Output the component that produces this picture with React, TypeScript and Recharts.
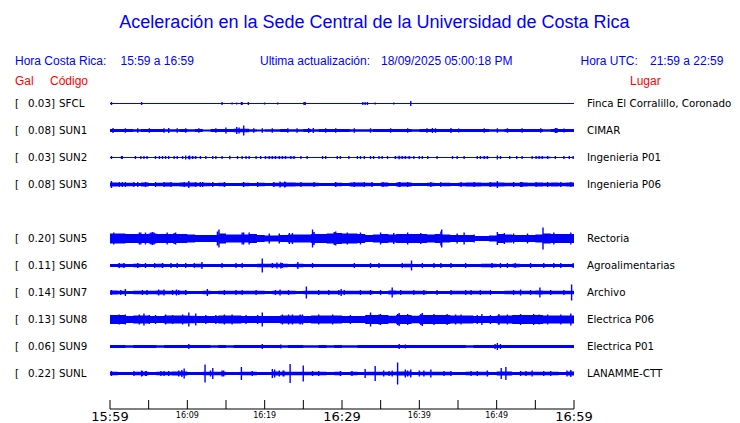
import { ComposedChart, Area, XAxis, YAxis } from 'recharts'

// station order top to bottom; SUN4 keeps an empty slot
const slotOrder = ['SFCL', 'SUN1', 'SUN2', 'SUN3', 'SUN4', 'SUN5', 'SUN6', 'SUN7', 'SUN8', 'SUN9', 'SUNL']
const codes = ['SFCL', 'SUN1', 'SUN2', 'SUN3', 'SUN5', 'SUN6', 'SUN7', 'SUN8', 'SUN9', 'SUNL']
const peakGal = [0.03, 0.08, 0.03, 0.08, 0.2, 0.11, 0.14, 0.13, 0.06, 0.22]
const places = [
  'Finca El Corralillo, Coronado',
  'CIMAR',
  'Ingenieria P01',
  'Ingenieria P06',
  'Rectoria',
  'Agroalimentarias',
  'Archivo',
  'Electrica P06',
  'Electrica P01',
  'LANAMME-CTT',
]

// minutes after 15:59
const tickMinutes = [0, 5, 10, 15, 20, 25, 30, 35, 40, 45, 50, 55, 60]
const labelMinutes = [0, 10, 20, 30, 40, 50, 60]
const labelText = ['15:59', '16:09', '16:19', '16:29', '16:39', '16:49', '16:59']
const majorMinutes = [0, 30, 60]

// envelope half-height of each trace, one value per minute
const bandSFCL = [
  0.5, 0.5, 0.5, 0.5, 0.5, 0.5, 0.5, 0.5, 0.5, 0.5,
  0.5, 0.5, 0.5, 0.5, 0.5, 0.5, 0.5, 0.5, 0.5, 0.5,
  0.5, 0.5, 0.5, 0.5, 0.5, 0.5, 0.5, 0.5, 0.5, 0.5,
  0.5, 0.5, 0.5, 0.5, 0.5, 0.5, 0.5, 0.5, 0.5, 0.5,
  0.5, 0.5, 0.5, 0.5, 0.5, 0.5, 0.5, 0.5, 0.5, 0.5,
  0.5, 0.5, 0.5, 0.5, 0.5, 0.5, 0.5, 0.5, 0.5, 0.5,
]
const bandSUN1 = [
  1.5, 1.5, 1.5, 1.2, 1.5, 1.5, 1.5, 1.2, 1.2, 1.5,
  1.2, 1.5, 1.0, 1.5, 1.5, 1.5, 1.8, 1.8, 1.2, 1.0,
  1.2, 1.2, 1.5, 1.2, 1.2, 1.5, 1.2, 1.5, 1.5, 1.5,
  1.5, 1.2, 1.2, 1.2, 1.5, 1.5, 1.5, 1.5, 1.5, 1.2,
  1.5, 1.5, 1.5, 1.5, 1.5, 1.5, 1.5, 1.5, 1.5, 1.2,
  1.2, 1.5, 1.5, 1.5, 1.5, 1.5, 1.2, 1.5, 1.5, 1.5,
]
const bandSUN2 = [
  0.5, 0.5, 0.5, 0.5, 0.6, 0.5, 0.6, 0.5, 0.5, 0.6,
  0.8, 0.6, 0.5, 0.5, 0.5, 0.5, 0.5, 0.5, 0.5, 0.5,
  0.8, 0.8, 0.8, 0.8, 0.5, 0.5, 0.5, 0.5, 0.5, 0.5,
  0.5, 0.5, 0.6, 0.6, 0.5, 0.5, 0.5, 0.8, 0.8, 0.6,
  0.5, 0.5, 0.5, 0.5, 0.5, 0.5, 0.5, 0.5, 0.8, 0.5,
  0.6, 0.5, 0.5, 0.5, 0.5, 0.8, 0.8, 0.5, 0.5, 0.5,
]
const bandSUN3 = [
  2.0, 1.8, 1.8, 1.6, 2.0, 1.6, 1.8, 2.0, 1.8, 2.0,
  2.0, 1.8, 1.8, 1.6, 1.8, 1.6, 1.6, 1.8, 1.6, 1.8,
  1.6, 1.8, 2.0, 2.0, 1.8, 1.8, 1.8, 1.6, 1.6, 1.8,
  1.6, 2.0, 2.0, 1.8, 1.6, 2.0, 1.6, 2.0, 2.0, 1.6,
  1.6, 1.8, 1.6, 1.8, 1.6, 1.8, 2.0, 2.0, 1.8, 2.0,
  2.0, 1.8, 1.8, 2.0, 1.8, 2.0, 1.8, 2.0, 1.8, 2.0,
]
const bandSUN5 = [
  5.0, 5.0, 4.5, 4.5, 4.5, 5.0, 4.5, 4.5, 4.5, 4.5,
  4.0, 3.5, 3.5, 3.5, 5.0, 4.0, 4.0, 4.0, 4.5, 3.5,
  3.0, 3.0, 3.5, 4.0, 4.0, 4.0, 4.5, 4.5, 5.0, 5.5,
  5.0, 5.0, 4.5, 3.5, 4.0, 4.5, 4.0, 4.5, 4.5, 4.5,
  4.5, 4.0, 4.5, 4.0, 3.5, 3.5, 3.5, 2.5, 2.5, 3.0,
  4.5, 4.0, 3.5, 3.5, 3.5, 4.0, 5.0, 4.5, 4.5, 4.5,
]
const bandSUN6 = [
  1.5, 1.8, 1.5, 1.8, 1.6, 1.6, 1.8, 1.6, 1.6, 1.6,
  1.6, 1.8, 1.5, 1.5, 1.6, 1.5, 1.6, 1.6, 1.5, 1.8,
  1.8, 1.8, 1.8, 1.5, 1.8, 1.5, 1.6, 1.5, 1.5, 1.5,
  1.5, 1.6, 1.5, 1.6, 1.6, 1.5, 1.5, 1.6, 1.8, 1.5,
  1.6, 1.6, 1.6, 1.6, 1.5, 1.6, 1.6, 1.5, 1.8, 1.8,
  1.6, 1.5, 1.8, 1.5, 1.6, 1.6, 1.6, 1.6, 1.6, 1.6,
]
const bandSUN7 = [
  2.0, 1.8, 1.6, 1.8, 1.8, 1.8, 2.0, 1.8, 1.8, 1.8,
  1.6, 1.6, 1.8, 1.6, 1.7, 1.7, 1.8, 1.8, 1.7, 1.8,
  1.6, 1.8, 1.8, 1.7, 1.6, 1.8, 1.8, 1.8, 1.8, 1.8,
  1.8, 1.8, 1.8, 1.8, 1.6, 1.6, 2.0, 1.8, 1.8, 1.8,
  1.8, 1.6, 1.6, 1.6, 1.8, 1.8, 1.8, 1.8, 1.8, 1.6,
  1.6, 1.8, 1.8, 1.8, 1.7, 2.0, 1.8, 1.8, 1.8, 1.8,
]
const bandSUN8 = [
  4.5, 4.5, 3.5, 4.0, 4.0, 3.5, 3.5, 4.0, 4.0, 4.0,
  3.8, 3.5, 3.5, 3.5, 4.0, 4.0, 4.0, 3.5, 3.5, 3.5,
  3.5, 3.5, 4.0, 4.0, 4.0, 3.5, 4.0, 4.0, 4.0, 4.0,
  3.5, 3.5, 3.5, 4.5, 4.5, 4.5, 3.8, 4.5, 4.5, 3.8,
  4.5, 4.5, 4.5, 4.5, 4.0, 4.0, 4.0, 3.5, 3.5, 3.5,
  4.0, 4.0, 4.5, 4.5, 4.5, 4.5, 4.0, 4.0, 4.0, 4.0,
]
const bandSUN9 = [
  1.5, 1.5, 1.2, 1.5, 1.5, 1.5, 1.2, 1.5, 1.5, 1.5,
  1.5, 1.5, 1.5, 1.2, 1.5, 1.2, 1.5, 1.5, 1.5, 1.5,
  1.5, 1.5, 1.2, 1.5, 1.5, 1.2, 1.2, 1.5, 1.2, 1.5,
  1.2, 1.2, 1.5, 1.5, 1.5, 1.5, 1.5, 1.5, 1.5, 1.5,
  1.5, 1.5, 1.5, 1.5, 1.5, 1.5, 1.2, 1.5, 1.5, 1.5,
  1.5, 1.5, 1.5, 1.5, 1.5, 1.5, 1.5, 1.5, 1.5, 1.5,
]
const bandSUNL = [
  1.8, 1.6, 1.6, 1.8, 1.8, 1.6, 1.8, 1.8, 2.0, 2.0,
  1.6, 1.6, 1.8, 1.8, 1.8, 1.6, 1.6, 1.8, 1.8, 1.6,
  1.6, 2.0, 1.8, 1.8, 1.8, 1.8, 1.8, 1.8, 1.6, 1.8,
  1.6, 1.8, 1.6, 1.8, 1.8, 1.8, 1.8, 2.0, 2.0, 1.6,
  1.8, 1.8, 1.8, 1.8, 1.6, 1.6, 1.8, 1.8, 1.8, 1.6,
  2.0, 2.0, 1.6, 1.8, 1.8, 1.8, 1.8, 1.8, 1.6, 2.0,
]

// short bursts: [minute, half-height]
const spikesSFCL = [
  [0.1, 1.5], [4.0, 1.5], [14.4, 1.5], [15.7, 1], [16.3, 1], [16.9, 1.5], [17.0, 1.5],
  [17.8, 1.5], [19.9, 1], [21.6, 1], [25.0, 1.5], [25.15, 1.5], [32.6, 1.5], [32.9, 1.5],
  [33.2, 1.5], [34.2, 1], [36.6, 1], [38.8, 2.5],
]
const spikesSUN1 = [
  [0.3, 2.5], [1.9, 2.2], [3.5, 2.2], [5.0, 2.2], [6.9, 2.2], [7.5, 2.5], [8.6, 2.2],
  [9.7, 2.2], [11.4, 2.2], [13.6, 2.2], [14.9, 3], [16.3, 3.5], [16.6, 3], [17.2, 5],
  [18.5, 2.2], [19.6, 2.2], [20.9, 2.2], [22.9, 2.2], [24.1, 2.2], [25.6, 2.5], [26.2, 2.5],
  [27.8, 2.2], [29.1, 2.2], [31.5, 2.2], [33.6, 2.2], [36.2, 2.2], [38.4, 2.2], [40.9, 2.2],
  [41.6, 2.5], [42.0, 2.2], [44.0, 2.5], [45.0, 2], [48.3, 2.2], [50.0, 2.2], [51.3, 2.2],
  [53.2, 2.2], [55.6, 2.2], [57.5, 2.5], [57.7, 2.5], [58.6, 2],
]
const spikesSUN2 = [
  [0.1, 1.5], [1.4, 1.5], [1.5, 1.5], [3.2, 1.5], [3.9, 1.5], [4.3, 1.5], [4.7, 1.5],
  [5.8, 1.5], [6.3, 1.5], [6.7, 1.5], [7.1, 1.5], [7.5, 1.5], [8.2, 1.5], [8.6, 1.5],
  [9.3, 1.5], [9.7, 2], [10.1, 1.5], [10.2, 2], [10.6, 1.5], [11.0, 1.5], [11.6, 1.5],
  [12.3, 1.5], [13.2, 1.5], [13.6, 1.5], [14.4, 1.5], [15.4, 1.8], [16.4, 1.5], [17.0, 1.5],
  [17.5, 1.5], [17.9, 1.5], [18.8, 1.5], [19.4, 1.5], [20.0, 1.5], [20.5, 1.5], [20.9, 1.5],
  [21.3, 1.5], [21.8, 1.5], [22.2, 1.5], [22.6, 1.5], [23.3, 1.5], [23.7, 1.5], [24.6, 1.5],
  [25.4, 1.5], [27.4, 1.5], [27.8, 1.5], [29.3, 1.5], [29.7, 1.5], [30.8, 1.5], [31.9, 1.5],
  [32.3, 1.5], [32.8, 1.5], [33.6, 1.5], [34.0, 1.5], [34.7, 1.5], [35.1, 1.5], [35.8, 1.5],
  [36.8, 1.5], [37.3, 1.8], [37.7, 1.5], [38.1, 1.5], [38.6, 1.5], [39.2, 1.5], [39.9, 1.5],
  [40.3, 1.5], [41.0, 1.5], [42.2, 1.5], [44.2, 1.5], [44.8, 1.5], [45.7, 1.5], [47.4, 1.5],
  [47.8, 1.5], [48.3, 1.5], [48.7, 1.5], [50.0, 2], [50.4, 1.5], [51.6, 1.5], [52.5, 1.5],
  [53.2, 1.5], [54.5, 1.5], [55.0, 1.5], [55.4, 1.5], [55.8, 1.5], [56.5, 1.5], [57.5, 1.5],
  [58.6, 1.5], [59.3, 1.5], [59.8, 1.5],
]
const spikesSUN3 = [
  [0.1, 3.5], [1.1, 2.5], [1.5, 2.5], [1.9, 2.5], [3.0, 2.5], [3.5, 2.5], [4.5, 2.5],
  [5.8, 2.5], [6.9, 2.5], [7.8, 2.5], [9.5, 2.5], [10.1, 3.5], [11.0, 2.5], [11.6, 2.5],
  [11.9, 2.5], [13.2, 2.5], [14.7, 2.5], [17.2, 2.5], [19.0, 2.5], [21.1, 2.5], [21.9, 3],
  [22.5, 3], [22.6, 2.5], [24.6, 2.5], [26.3, 2.5], [29.1, 2.5], [31.5, 2.5], [32.8, 2.5],
  [33.8, 2.5], [35.2, 2.5], [37.3, 2.5], [37.4, 2.5], [38.4, 2.5], [41.4, 2.5], [42.7, 2.5],
  [45.3, 2.5], [47.0, 2.5], [49.1, 2.5], [50.0, 3.5], [52.1, 2.5], [53.0, 2.5], [53.2, 2.5],
  [55.0, 2.5], [56.5, 2.5], [58.2, 2.5], [59.5, 2.5],
]
const spikesSUN5 = [
  [0.4, 6], [3.7, 6], [3.9, 6], [4.5, 6], [5.2, 6], [5.4, 6.5], [5.6, 6], [7.3, 6],
  [8.2, 5.5], [8.4, 6], [13.8, 7], [14.0, 9], [17.0, 6], [17.2, 6], [17.9, 6], [20.5, 5],
  [21.8, 5], [23.1, 5.5], [23.5, 5.5], [26.1, 9], [26.3, 6.5], [28.9, 6.5], [29.1, 7],
  [30.6, 6], [32.3, 6], [34.9, 6], [36.6, 5.5], [38.4, 6], [40.1, 5.5], [42.7, 7],
  [42.8, 9], [44.8, 5], [45.7, 6], [47.0, 4], [50.0, 6.5], [50.9, 5.5], [52.1, 5],
  [53.9, 5], [55.9, 11], [57.3, 6], [59.5, 6],
]
const spikesSUN6 = [
  [1.1, 2.5], [1.7, 2.5], [3.5, 2.5], [4.5, 2.5], [5.7, 2.5], [6.7, 2.5], [7.8, 2.5],
  [8.6, 2.5], [9.7, 2.5], [10.8, 2.5], [11.8, 3.5], [14.4, 2.5], [16.2, 2.5], [17.0, 2.5],
  [19.6, 7], [20.9, 2.5], [21.5, 3], [22.0, 3], [22.2, 2.5], [24.2, 3.5], [26.1, 2.5],
  [31.5, 2.5], [33.6, 2.5], [34.7, 2.5], [37.7, 2.5], [38.9, 5], [40.3, 2.5], [41.8, 2.5],
  [42.7, 2.5], [44.0, 2.5], [45.9, 2.5], [49.3, 2.5], [50.4, 2.5], [51.3, 2.5], [52.3, 2.5],
  [54.3, 2.5], [56.0, 2.5], [57.3, 2.5], [58.2, 2.5], [59.8, 2.5],
]
const spikesSUN7 = [
  [0.1, 2.5], [1.3, 2.5], [1.9, 3.5], [4.1, 2.5], [4.7, 2.5], [6.2, 3], [6.9, 3],
  [8.0, 2.5], [8.5, 3], [8.8, 2.5], [9.7, 2.5], [12.5, 3.5], [14.7, 2.5], [16.2, 2.5],
  [17.0, 2.5], [18.8, 2.5], [21.3, 2.5], [21.9, 3], [23.0, 2.5], [25.3, 6], [26.9, 2.5],
  [28.2, 2.5], [29.5, 2.5], [29.8, 3.5], [30.2, 2.5], [32.3, 2.5], [33.6, 2.5], [34.9, 2.5],
  [36.4, 5], [37.5, 2.5], [39.2, 2.5], [40.5, 2.5], [42.2, 2.5], [44.0, 2.5], [45.9, 2.5],
  [46.6, 2.5], [47.8, 2.5], [49.1, 2.5], [52.1, 2.5], [53.0, 3], [54.3, 2.5], [55.5, 5],
  [56.9, 2.5], [58.6, 2.5], [59.6, 8],
]
const spikesSUN8 = [
  [1.1, 5], [1.9, 5], [3.7, 5], [4.3, 6], [5.0, 4.5], [5.8, 4.5], [7.1, 5], [8.0, 4.5],
  [9.3, 5], [10.1, 7], [11.0, 6], [12.3, 4.5], [13.6, 4.5], [14.7, 5], [15.7, 5], [17.5, 4.5],
  [19.0, 4.5], [19.6, 7], [22.2, 5], [23.0, 5], [23.5, 5], [24.5, 5], [24.8, 5], [26.9, 5],
  [28.7, 5], [31.0, 4.5], [33.6, 7], [34.7, 5], [34.9, 5.5], [37.1, 5.5], [37.3, 6.5],
  [38.4, 5.5], [40.1, 5.5], [40.3, 6.5], [41.8, 5.5], [43.5, 5.5], [44.6, 5], [45.3, 5],
  [47.4, 4.5], [48.0, 5.5], [49.1, 4.5], [50.2, 5.5], [51.3, 5], [53.0, 5.5], [54.7, 5.5],
  [55.4, 5], [56.5, 5], [58.2, 5], [59.5, 6],
]
const spikesSUN9 = [
  [10.1, 2.5], [19.6, 2.5], [22.0, 2], [37.3, 2.5], [38.1, 2], [49.7, 2.5], [50.0, 3.5], [50.4, 2.5],
]
const spikesSUNL = [
  [0.1, 2.5], [3.0, 2.5], [4.0, 3], [4.1, 2.5], [4.5, 2.5], [4.6, 2.5], [6.5, 2.5],
  [6.9, 2.5], [7.5, 2.5], [8.8, 3], [9.2, 3.5], [9.5, 5], [12.2, 9], [12.9, 3],
  [13.2, 5.5], [14.4, 3], [14.6, 3], [16.9, 6.5], [18.3, 2.5], [20.9, 4.5], [21.2, 4],
  [21.8, 3], [22.3, 3], [22.4, 3], [23.2, 9.5], [24.9, 8], [26.1, 2.5], [26.9, 2.5],
  [29.7, 2.5], [31.2, 2.5], [32.9, 4.5], [34.2, 7.5], [35.3, 3], [36.0, 2.5], [36.4, 3],
  [37.1, 11], [38.1, 4], [38.4, 3], [38.8, 4], [39.9, 3], [40.5, 3], [41.4, 4], [43.1, 2.5],
  [44.0, 2.5], [46.6, 2.5], [47.4, 2.5], [48.7, 3], [50.5, 5.5], [51.1, 6.5], [53.0, 2.5],
  [53.7, 2.5], [54.5, 3], [56.0, 2.5], [56.9, 2.5], [59.0, 3], [59.5, 3.5],
]

const bands = [bandSFCL, bandSUN1, bandSUN2, bandSUN3, bandSUN5, bandSUN6, bandSUN7, bandSUN8, bandSUN9, bandSUNL]
const spikes = [spikesSFCL, spikesSUN1, spikesSUN2, spikesSUN3, spikesSUN5, spikesSUN6, spikesSUN7, spikesSUN8, spikesSUN9, spikesSUNL]

const BLUE = '#0000ff'
const RED = '#ff0000'
const SPIKE_W = 0.18
const ROW_H = 27
const TOP = 90
const PLOT_H = 319

const baseOf = (code: string) => 13.5 + slotOrder.indexOf(code) * ROW_H

const ampAt = (i: number, t: number) => {
  let a = bands[i][Math.min(59, Math.floor(t))]
  spikes[i].forEach(([s, h]) => {
    if (t >= s - 1e-9 && t < s + SPIKE_W - 1e-9 && h > a) a = h
  })
  return a
}

const times = Array.from(
  new Set([
    ...Array.from({ length: 61 }, (_, m) => m),
    ...spikes.flat().flatMap(([s]) => [s, +(s + SPIKE_W).toFixed(3)]),
  ]),
).sort((a, b) => a - b)

const data = times.map((t) => {
  const row: Record<string, number | number[]> = { t }
  codes.forEach((c, i) => {
    const a = ampAt(i, t)
    const b = baseOf(c)
    row[c] = [b - a, b + a]
  })
  return row
})

const TimeTick = ({ x, y, payload }: any) => {
  const v = payload.value
  const li = labelMinutes.indexOf(v)
  const major = majorMinutes.includes(v)
  return (
    <g>
      <line x1={x} x2={x} y1={y - 9} y2={y} stroke="#000" />
      {li >= 0 && (
        <text
          x={x}
          y={major ? y + 12 : y + 8.5}
          textAnchor="middle"
          fontFamily="DejaVu Sans"
          fontSize={major ? 13 : 8}
          fill="#000"
        >
          {labelText[li]}
        </text>
      )}
    </g>
  )
}

const Labels = () => (
  <svg
    width={740}
    height={423}
    style={{ position: 'absolute', left: 0, top: 0, pointerEvents: 'none' }}
  >
    <text x={374.5} y={28} textAnchor="middle" fontFamily="Liberation Sans" fontSize={18} fill={BLUE}>
      Aceleración en la Sede Central de la Universidad de Costa Rica
    </text>
    <g fontFamily="Liberation Sans" fontSize={12} fill={BLUE}>
      <text x={15} y={65}>Hora Costa Rica:</text>
      <text x={120.5} y={65}>15:59 a 16:59</text>
      <text x={260} y={65}>Ultima actualización:</text>
      <text x={381} y={65}>18/09/2025 05:00:18 PM</text>
      <text x={580.5} y={65}>Hora UTC:</text>
      <text x={650} y={65}>21:59 a 22:59</text>
    </g>
    <g fontFamily="Liberation Sans" fontSize={12} fill={RED}>
      <text x={15} y={85}>Gal</text>
      <text x={50} y={85}>Código</text>
      <text x={630} y={85}>Lugar</text>
    </g>
    <g fontFamily="DejaVu Sans" fontSize={10.3} fill="#000">
      {codes.map((c, i) => {
        const y = TOP + baseOf(c) + 3.5
        return (
          <g key={c}>
            <text x={15} y={y}>[</text>
            <text x={55} y={y} textAnchor="end">{peakGal[i].toFixed(2)}]</text>
            <text x={59} y={y}>{c}</text>
            <text x={587} y={y}>{places[i]}</text>
          </g>
        )
      })}
    </g>
  </svg>
)

export default function App() {
  return (
    <div style={{ position: 'absolute', left: 0, top: 0, width: 740, height: 423, background: '#fff' }}>
      <ComposedChart
        width={740}
        height={423}
        data={data}
        margin={{ top: TOP, right: 166, bottom: 0, left: 110 }}
      >
        <XAxis
          dataKey="t"
          type="number"
          domain={[0, 60]}
          ticks={tickMinutes}
          interval={0}
          height={14}
          tickSize={0}
          tickMargin={0}
          tickLine={false}
          axisLine={{ stroke: '#000' }}
          tick={<TimeTick />}
        />
        <YAxis hide width={0} type="number" domain={[0, PLOT_H]} reversed allowDataOverflow />
        {codes.map((c) => (
          <Area
            key={c}
            dataKey={c}
            type="stepAfter"
            stroke="none"
            fill={BLUE}
            fillOpacity={1}
            dot={false}
            activeDot={false}
            isAnimationActive={false}
          />
        ))}
      </ComposedChart>
      <Labels />
    </div>
  )
}
